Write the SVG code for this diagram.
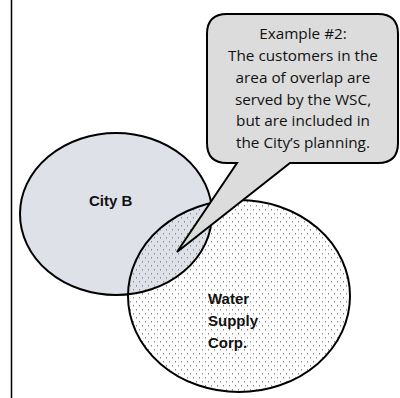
<svg xmlns="http://www.w3.org/2000/svg" width="400" height="398" viewBox="0 0 400 398">
  <defs>
    <pattern id="dots" width="6" height="8" patternUnits="userSpaceOnUse">
      <rect x="1" y="1" width="1" height="1.5" fill="#8c8c8c"/>
      <rect x="4" y="5" width="1" height="1.5" fill="#8c8c8c"/>
    </pattern>
  </defs>
  <style>
    .outline { fill: none; stroke: #000; stroke-width: 2; }
    .lbl { font-family: "Liberation Sans", Arial, sans-serif; font-weight: bold; font-size: 15px; fill: #111; }
    .call { font-family: "Open Sans", "Liberation Sans", sans-serif; font-size: 15.3px; fill: #111; text-anchor: middle; }
  </style>
  <rect width="400" height="398" fill="#fff"/>
  <line x1="11.5" y1="0" x2="11.5" y2="398" stroke="#000" stroke-width="1.5"/>

  <g id="wsc">
    <ellipse cx="239" cy="296" rx="111" ry="96" fill="#fff"/>
  </g>
  <g id="city-b">
    <ellipse cx="116" cy="214" rx="96" ry="81" fill="#dfe1e8"/>
  </g>
  <ellipse cx="239" cy="296" rx="111" ry="96" fill="url(#dots)"/>
  <ellipse class="outline" cx="116" cy="214" rx="96" ry="81"/>
  <ellipse class="outline" cx="239" cy="296" rx="111" ry="96"/>
  <text class="lbl" x="89" y="206">City B</text>
  <text class="lbl" x="208" y="304">Water</text>
  <text class="lbl" x="208" y="326">Supply</text>
  <text class="lbl" x="208" y="348">Corp.</text>

  <g id="callout">
    <path d="M227 14 H378 Q398 14 398 34 V143 Q398 163 378 163 H290 L177 252 L237 163 H227 Q207 163 207 143 V34 Q207 14 227 14 Z" fill="#dcdcdc" stroke="#000" stroke-width="2" stroke-linejoin="miter"/>
    <text class="call" x="303" y="39">Example #2:</text>
    <text class="call" x="303" y="61">The customers in the</text>
    <text class="call" x="303" y="83">area of overlap are</text>
    <text class="call" x="303" y="104.5">served by the WSC,</text>
    <text class="call" x="303" y="126">but are included in</text>
    <text class="call" x="303" y="148">the City’s planning.</text>
  </g>
</svg>
